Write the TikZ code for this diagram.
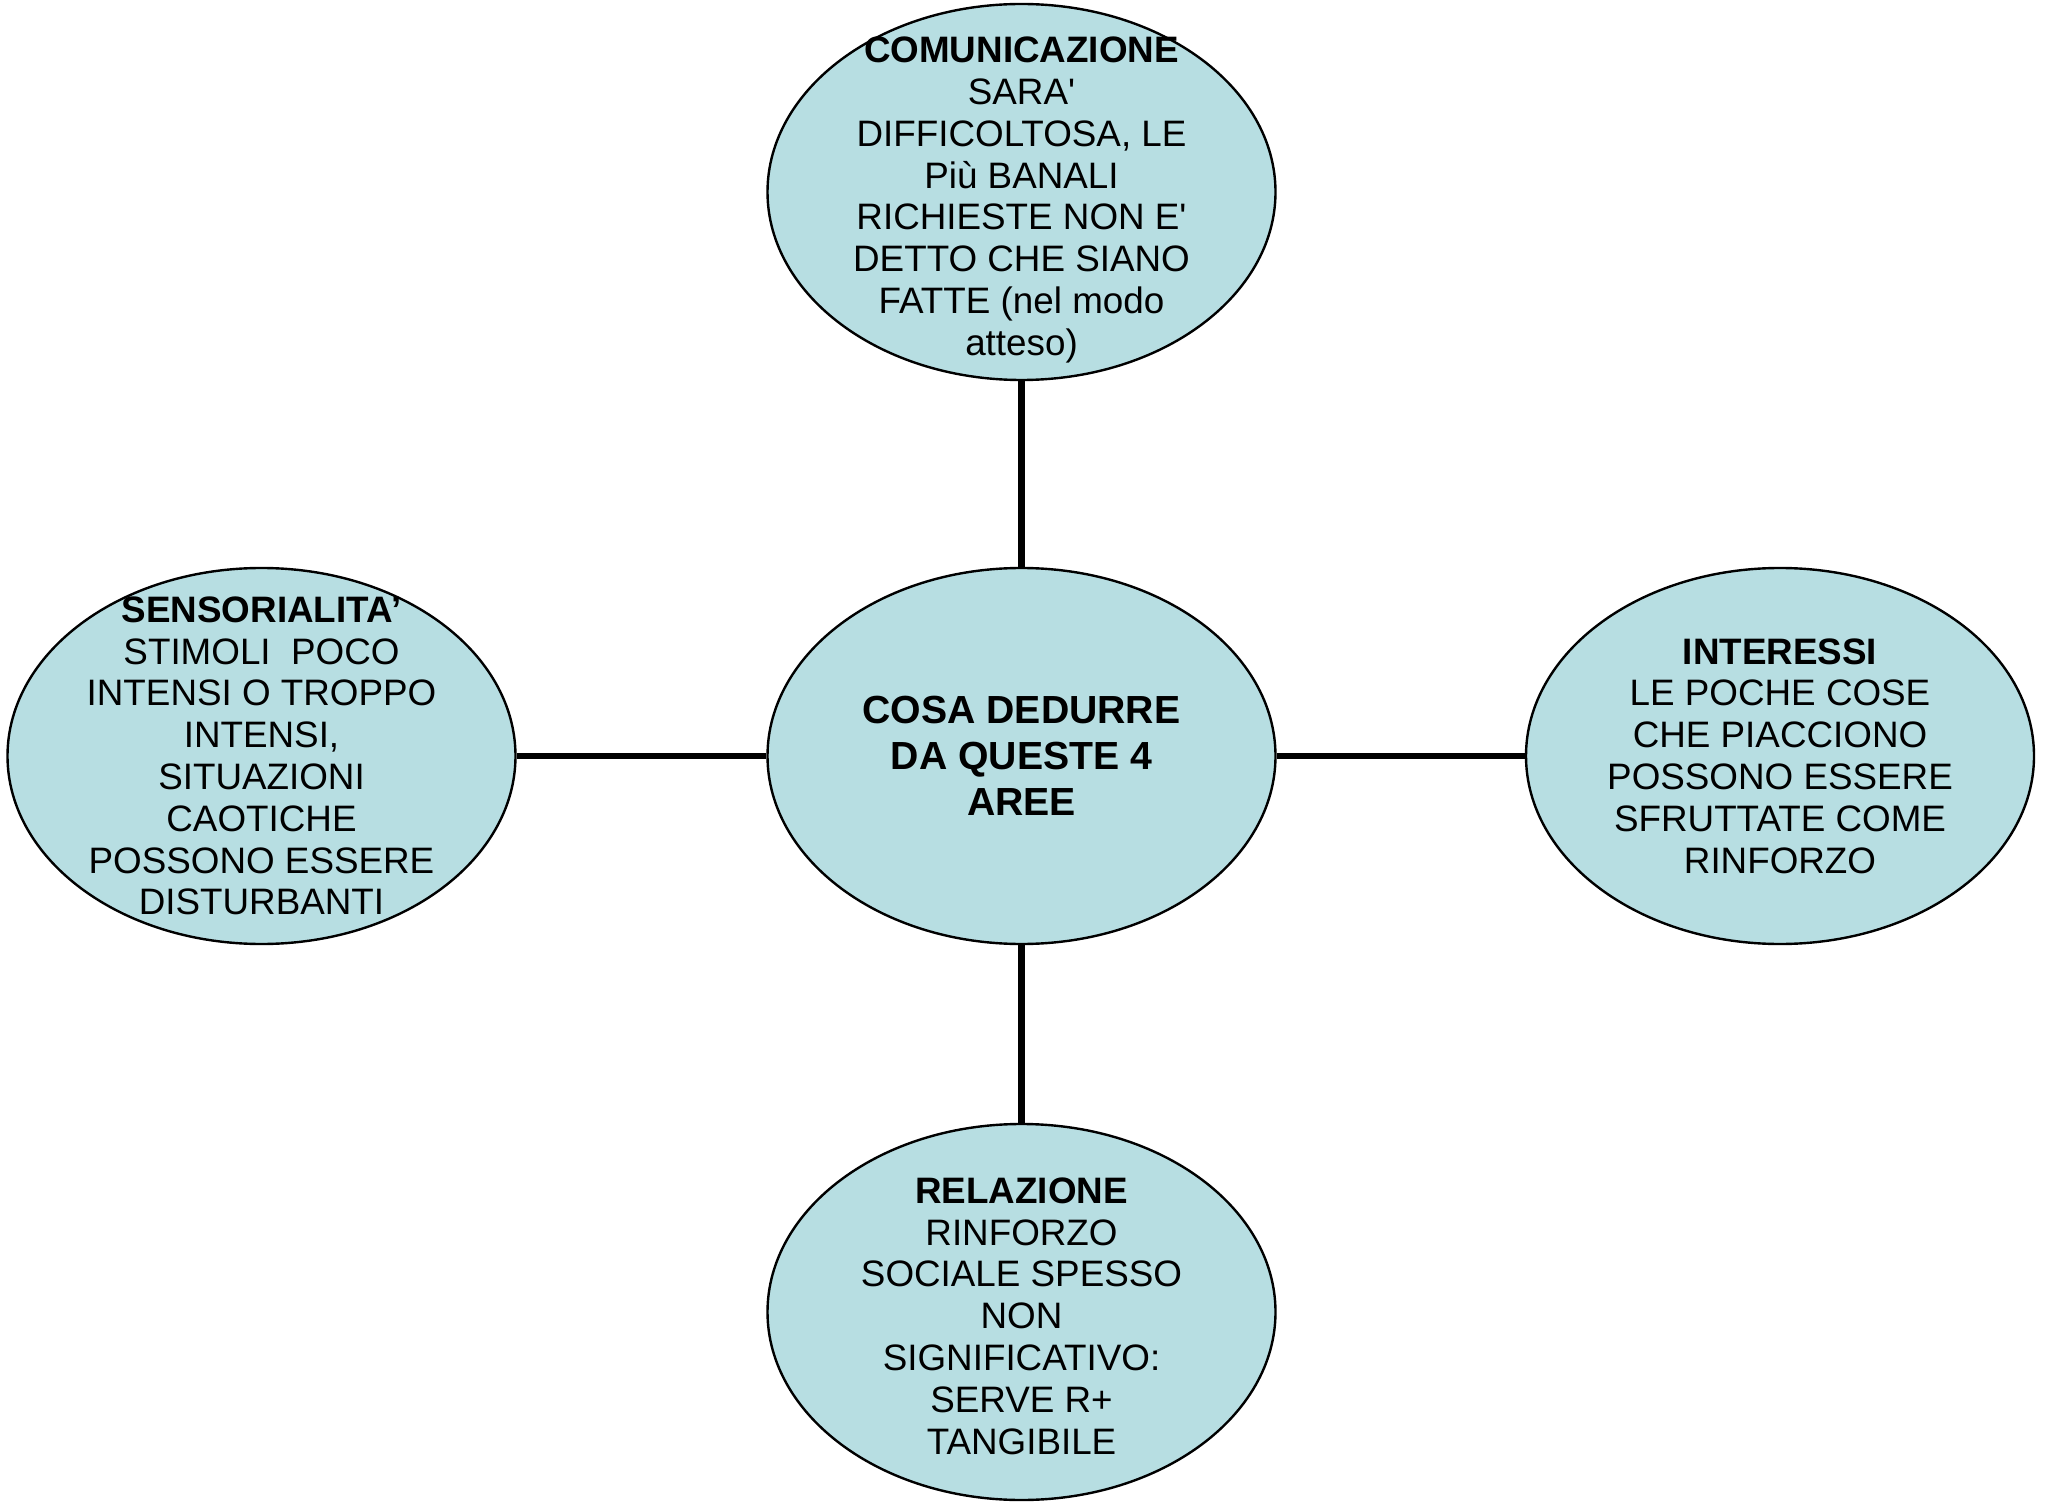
\documentclass[tikz,border=0pt]{standalone}
\usepackage{fontspec}
\newfontfamily\diagfont{Liberation Sans}
\usetikzlibrary{shapes.geometric}
\definecolor{areafill}{RGB}{183,222,226}
\tikzset{
  area/.style={ellipse, draw=black, line width=1.2pt, fill=areafill,
    minimum width=254pt, minimum height=188pt, inner sep=0pt},
  areatext/.style={inner sep=0pt, align=center,
    font=\diagfont\fontsize{18.4}{20.9}\selectfont},
  hubtext/.style={areatext, font=\diagfont\bfseries\fontsize{19.6}{23}\selectfont},
  link/.style={line width=3.2pt}
}
\begin{document}
\begin{tikzpicture}[x=0.5pt,y=-0.5pt]
  \useasboundingbox (0,0) rectangle (2045,1502);
  % ellipses: centre and the four areas
  \node[area] (c) at (1021.5,756) {};
  \node[area] (t) at (1021.5,192) {};
  \node[area] (l) at (261.5,756) {};
  \node[area] (r) at (1780,756) {};
  \node[area] (b) at (1021.5,1312) {};
  % connectors
  \draw[link] (c) -- (t);
  \draw[link] (c) -- (b);
  \draw[link] (c) -- (l);
  \draw[link] (c) -- (r);
  % texts
  \node[hubtext] (ct) at (c.center) {COSA DEDURRE\\DA QUESTE 4\\AREE};
  \node[areatext] (tt) at ([yshift=-4pt]t.center) {\textbf{COMUNICAZIONE}\\SARA'\\DIFFICOLTOSA, LE\\Più BANALI\\RICHIESTE NON E'\\DETTO CHE SIANO\\FATTE (nel modo\\atteso)};
  \node[areatext] (lt) at (l.center) {\textbf{SENSORIALITA’}\\STIMOLI\ \ POCO\\INTENSI O TROPPO\\INTENSI,\\SITUAZIONI\\CAOTICHE\\POSSONO ESSERE\\DISTURBANTI};
  \node[areatext] (rt) at (r.center) {\textbf{INTERESSI}\\LE POCHE COSE\\CHE PIACCIONO\\POSSONO ESSERE\\SFRUTTATE COME\\RINFORZO};
  \node[areatext] (bt) at ([yshift=-2pt]b.center) {\textbf{RELAZIONE}\\RINFORZO\\SOCIALE SPESSO\\NON\\SIGNIFICATIVO:\\SERVE R+\\TANGIBILE};
\end{tikzpicture}
\end{document}
